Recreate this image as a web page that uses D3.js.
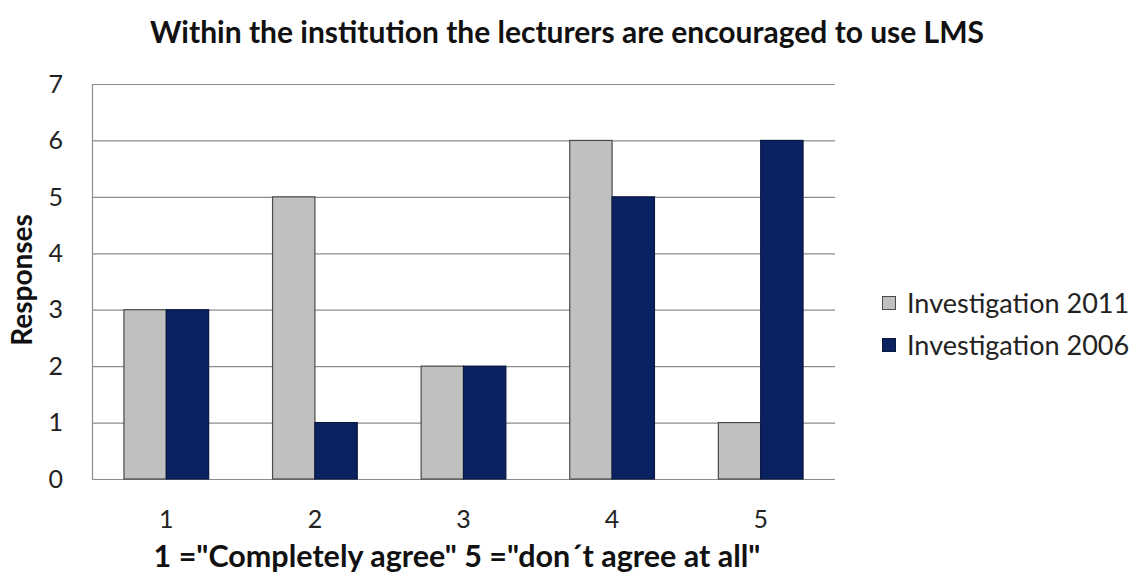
<!DOCTYPE html>
<html>
<head>
<meta charset="utf-8">
<script src="https://cdn.jsdelivr.net/npm/d3@7"></script>
<style>
  html, body { margin: 0; padding: 0; background: #fff; }
  svg { display: block; font-family: Lato, "Open Sans", sans-serif; }
</style>
</head>
<body>
<svg id="chart" width="1134" height="578"></svg>
<script>
// Survey responses per agreement level
const categories = ["1", "2", "3", "4", "5"];
const seriesNames = ["Investigation 2011", "Investigation 2006"];
const values2011 = [3, 5, 2, 6, 1];
const values2006 = [3, 1, 2, 5, 6];
const yTicks = [0, 1, 2, 3, 4, 5, 6, 7];

const colors = ["#c0c0c0", "#0b2262"];
const strokes = ["#4a4a4a", "#0a1840"];

const svg = d3.select("#chart");
const plot = { left: 92, right: 835, top: 84, bottom: 479 };

const x = d3.scaleBand().domain(categories).range([plot.left, plot.right]).paddingInner(0.43).paddingOuter(0.215);
const xs = d3.scaleBand().domain(seriesNames).range([0, x.bandwidth()]);
const y = d3.scaleLinear().domain([0, 7]).range([plot.bottom, plot.top]);

// gridlines
svg.append("g")
  .selectAll("line")
  .data(yTicks)
  .join("line")
  .attr("x1", plot.left).attr("x2", plot.right)
  .attr("y1", d => y(d) + 0.5).attr("y2", d => y(d) + 0.5)
  .attr("stroke", "#8c8c8c").attr("stroke-width", 1.2);

// left axis line
svg.append("line")
  .attr("x1", plot.left + 0.5).attr("x2", plot.left + 0.5)
  .attr("y1", plot.top).attr("y2", plot.bottom)
  .attr("stroke", "#8c8c8c").attr("stroke-width", 1.2);

// bars
const rows = categories.map((c, i) => ({ c, vals: [values2011[i], values2006[i]] }));
svg.append("g")
  .selectAll("g")
  .data(rows)
  .join("g")
  .attr("transform", d => `translate(${x(d.c)},0)`)
  .selectAll("rect")
  .data(d => d.vals.map((v, k) => ({ v, k })))
  .join("rect")
  .attr("x", d => xs(seriesNames[d.k]))
  .attr("width", xs.bandwidth())
  .attr("y", d => y(d.v))
  .attr("height", d => y(0) - y(d.v))
  .attr("fill", d => colors[d.k])
  .attr("stroke", d => strokes[d.k])
  .attr("stroke-width", 1.2);

// y axis tick labels
svg.append("g")
  .selectAll("text")
  .data(yTicks)
  .join("text")
  .attr("x", 63)
  .attr("y", d => y(d))
  .attr("dy", "0.35em")
  .attr("text-anchor", "end")
  .attr("font-size", 25)
  .attr("fill", "#222")
  .text(d => d);

// x axis tick labels
svg.append("g")
  .selectAll("text")
  .data(categories)
  .join("text")
  .attr("x", d => x(d) + x.bandwidth() / 2)
  .attr("y", 519)
  .attr("dy", "0.35em")
  .attr("text-anchor", "middle")
  .attr("font-size", 25)
  .attr("fill", "#222")
  .text(d => d);

// title
svg.append("text")
  .attr("x", 567).attr("y", 32)
  .attr("dy", "0.35em")
  .attr("text-anchor", "middle")
  .attr("font-size", 30)
  .attr("font-weight", "bold")
  .attr("fill", "#111")
  .text("Within the institution the lecturers are encouraged to use LMS");

// x axis title
svg.append("text")
  .attr("x", 457).attr("y", 556)
  .attr("dy", "0.35em")
  .attr("text-anchor", "middle")
  .attr("font-size", 30.5)
  .attr("font-weight", "bold")
  .attr("fill", "#111")
  .text("1 =\"Completely agree\" 5 =\"don\u00b4t agree at all\"");

// y axis title
svg.append("text")
  .attr("transform", "translate(22,280) rotate(-90)")
  .attr("dy", "0.35em")
  .attr("text-anchor", "middle")
  .attr("font-size", 28)
  .attr("font-weight", "bold")
  .attr("fill", "#111")
  .text("Responses");

// legend
const legend = svg.append("g")
  .selectAll("g")
  .data(seriesNames)
  .join("g")
  .attr("transform", (d, i) => `translate(882,${304 + i * 42})`);
legend.append("rect")
  .attr("x", 0.5).attr("y", -7.5)
  .attr("width", 13).attr("height", 13)
  .attr("fill", (d, i) => colors[i])
  .attr("stroke", (d, i) => strokes[i]);
legend.append("text")
  .attr("x", 25).attr("y", 0)
  .attr("dy", "0.35em")
  .attr("font-size", 27)
  .attr("fill", "#222")
  .text(d => d);
</script>
</body>
</html>
